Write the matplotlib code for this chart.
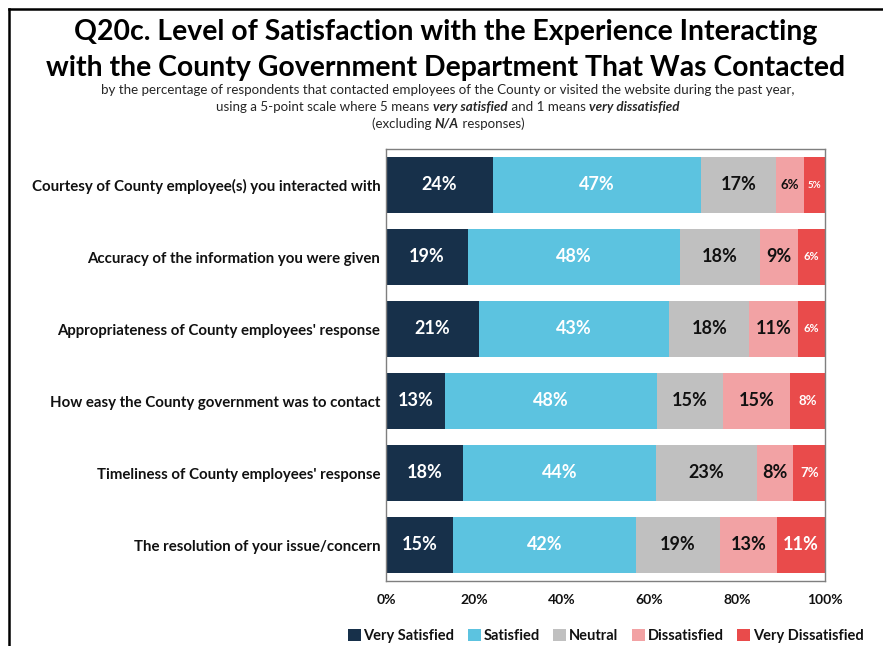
import matplotlib
matplotlib.use("Agg")
import matplotlib.pyplot as plt
from matplotlib.lines import Line2D
import numpy as np

plt.rcParams['font.family'] = ['Lato', 'DejaVu Sans']

categories = [
    "Courtesy of County employee(s) you interacted with",
    "Accuracy of the information you were given",
    "Appropriateness of County employees' response",
    "How easy the County government was to contact",
    "Timeliness of County employees' response",
    "The resolution of your issue/concern",
]
series_names = ["Very Satisfied", "Satisfied", "Neutral", "Dissatisfied", "Very Dissatisfied"]
very_satisfied = [24.3, 18.7, 21.2, 13.4, 17.6, 15.3]
satisfied = [47.4, 48.3, 43.3, 48.4, 43.9, 41.6]
neutral = [17.1, 18.2, 18.3, 15.0, 22.9, 19.2]
dissatisfied = [6.4, 8.6, 11.1, 15.2, 8.4, 12.9]
very_dissatisfied = [4.8, 6.2, 6.1, 8.0, 7.2, 11.0]
x_ticks = [0, 20, 40, 60, 80, 100]
x_tick_labels = ["0%", "20%", "40%", "60%", "80%", "100%"]

colors = ["#17304a", "#5cc3e0", "#c0c0c0", "#f2a2a4", "#e94b4b"]
label_colors = ["white", "white", "#111111", "#111111", "white"]


def label_size(width):
    # narrow segments get smaller value labels so they still fit
    if width >= 8.3:
        return 13
    if width >= 6.35:
        return 9.5
    if width >= 6.0:
        return 8
    return 7


fig = plt.figure(figsize=(8.83, 6.46), dpi=100)
W, H = 883, 646
ax = fig.add_axes([386 / W, 1 - 581 / H, 439 / W, 432 / H])

series = [very_satisfied, satisfied, neutral, dissatisfied, very_dissatisfied]
y = np.arange(len(categories))
left = np.zeros(len(categories))
for name, vals, col, lcol in zip(series_names, series, colors, label_colors):
    vals = np.array(vals)
    ax.barh(y, vals, left=left, height=0.79, color=col, label=name, edgecolor='none')
    for yi, (l, v) in enumerate(zip(left, vals)):
        ax.text(l + v / 2, yi, f"{v:.0f}%", ha='center', va='center',
                color=lcol, fontsize=label_size(v), fontweight='bold')
    left = left + vals

ax.set_xlim(0, 100)
ax.set_ylim(len(categories) - 0.5, -0.5)
ax.set_yticks(y)
ax.set_yticklabels(categories, fontsize=10.8, fontweight='bold', color='#111111')
ax.set_xticks(x_ticks)
ax.set_xticklabels(x_tick_labels, fontsize=10, fontweight='bold', color='#111111')
ax.tick_params(axis='both', length=0)
ax.tick_params(axis='y', pad=4)
ax.tick_params(axis='x', pad=9)
for s in ax.spines.values():
    s.set_color('#7f7f7f')
    s.set_linewidth(1.0)

leg = fig.legend(loc='center', bbox_to_anchor=(605.5 / W, 1 - 636 / H), ncol=5,
                 frameon=False, handlelength=0.9, handleheight=0.9, handletextpad=0.2,
                 columnspacing=0.9, prop={'weight': 'bold', 'size': 10.5})
for t in leg.get_texts():
    t.set_color('#111111')

# outer frame lines
fig.add_artist(Line2D([9 / W, 9 / W], [0, 1 - 9 / H], color='black', lw=1.8))
fig.add_artist(Line2D([9 / W, 1], [1 - 9 / H, 1 - 9 / H], color='black', lw=1.8))

# title
fig.text(446 / W, 1 - 32 / H, "Q20c. Level of Satisfaction with the Experience Interacting",
         ha='center', va='center', fontsize=20.4, fontweight='bold', color='black')
fig.text(446 / W, 1 - 68 / H, "with the County Government Department That Was Contacted",
         ha='center', va='center', fontsize=20.4, fontweight='bold', color='black')

# subtitle lines with mixed styling
sub_lines = [
    (90, [("by the percentage of respondents that contacted employees of the County or visited the website during the past year,", False)]),
    (107, [("using a 5-point scale where 5 means ", False), ("very satisfied", True),
           (" and 1 means ", False), ("very dissatisfied", True)]),
    (124, [("(excluding ", False), ("N/A", True), (" responses)", False)]),
]
renderer = fig.canvas.get_renderer()
for ypix, parts in sub_lines:
    texts = []
    for s, emph in parts:
        t = fig.text(0, 1 - ypix / H, s, ha='left', va='center', fontsize=9.6,
                     color='#262626',
                     fontweight='bold' if emph else 'normal',
                     fontstyle='italic' if emph else 'normal')
        texts.append(t)
    widths = [t.get_window_extent(renderer).width for t in texts]
    total = sum(widths)
    x0 = 448 - total / 2
    for t, w in zip(texts, widths):
        t.set_x(x0 / W)
        x0 += w

fig.savefig("out.png", dpi=100)
